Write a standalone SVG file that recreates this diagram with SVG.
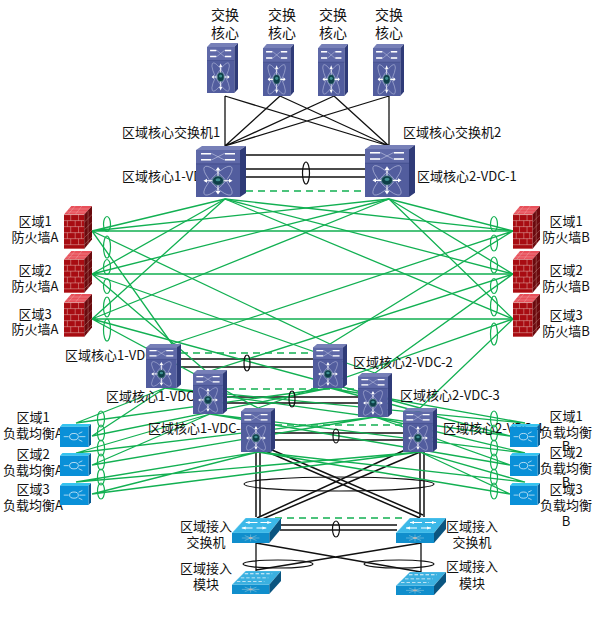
<svg xmlns="http://www.w3.org/2000/svg" xmlns:xlink="http://www.w3.org/1999/xlink" width="597" height="623" viewBox="0 0 597 623">
<style>
text{font-family:"Noto Sans CJK SC","Liberation Sans",sans-serif;font-size:13px;fill:#111}
.m{text-anchor:middle}
.b{font-size:14px}
.k{stroke:#111;stroke-width:1.5;fill:none}
.k2{stroke:#111;stroke-width:1.3;fill:none}
.g{stroke:#12b052;stroke-width:1.3;fill:none}
.d{stroke:#12b052;stroke-width:1.4;fill:none;stroke-dasharray:7 5}
.e{stroke:#111;stroke-width:1.2;fill:none}
.ge{stroke:#12b052;stroke-width:1.2;fill:none}
</style>
<defs>
<symbol id="nexus" viewBox="0 0 100 100" preserveAspectRatio="none">
<polygon points="0,8 12,0 100,0 88,8" fill="#7780b8"/>
<polygon points="88,8 100,0 100,92 88,100" fill="#2f3b78"/>
<rect x="0" y="8" width="88" height="92" fill="#525d9e"/>
<rect x="0" y="8" width="88" height="27" fill="#5f69a8"/>
<path d="M0 35H88" stroke="#3a4684" stroke-width="1.2"/>
<path d="M10 15H32L56 27H78M10 27H32L56 15H78" stroke="#d8dcf0" stroke-width="1" fill="none"/>
<path d="M10 15H30M58 15H78M10 27H30M58 27H78" stroke="#fff" stroke-width="3"/>
<g fill="none" stroke="#c8cde8" stroke-width="1.1">
<ellipse cx="44" cy="68" rx="38" ry="12" transform="rotate(45 44 68)"/>
<ellipse cx="44" cy="68" rx="38" ry="12" transform="rotate(-45 44 68)"/>
</g>
<path d="M44 68V44M44 68V92M44 68H18M44 68H70" stroke="#fff" stroke-width="2"/>
<path d="M44 41L39 48H49ZM44 95L39 88H49ZM15 68L22 64V72ZM73 68L66 64V72Z" fill="#fff"/>
<ellipse cx="44" cy="68" rx="11" ry="9" fill="#0e3f48" stroke="#7fb0b0" stroke-width="1"/>
<ellipse cx="44" cy="66" rx="5" ry="3" fill="#3f8f8f"/>
</symbol>
<symbol id="fw" viewBox="0 0 100 100" preserveAspectRatio="none">
<polygon points="0,20 26,0 100,0 72,20" fill="#e8505a"/>
<path d="M14 20L40 0M40 20L64 0M6 14H80M16 7H92" stroke="#f4c0c0" stroke-width="1"/>
<polygon points="72,20 100,0 100,78 72,100" fill="#6a0a0e"/>
<path d="M72 38L100 20M72 56L100 38M72 74L100 56M72 90L100 72M86 12V90" stroke="#d8a8a0" stroke-width="1"/>
<rect x="0" y="20" width="72" height="80" fill="#a80c12"/>
<path d="M0 20H72M0 34H72M0 48H72M0 62H72M0 76H72M0 90H72M0 99H72M24 20V34M52 20V34M12 34V48M40 34V48M62 34V48M24 48V62M52 48V62M12 62V76M40 62V76M62 62V76M24 76V90M52 76V90" stroke="#f0d8d0" stroke-width="1.2" fill="none"/>
</symbol>
<symbol id="lb" viewBox="0 0 100 100" preserveAspectRatio="none">
<polygon points="0,12 8,0 100,0 92,12" fill="#35c4f0"/>
<polygon points="92,12 100,0 100,88 92,100" fill="#0a5c92"/>
<rect x="0" y="12" width="92" height="88" fill="#0a90d8"/>
<circle cx="45" cy="55" r="14" fill="none" stroke="#fff" stroke-width="2.6"/>
<path d="M12 55H28M62 55H82M60 42L72 34M60 68L72 76" stroke="#fff" stroke-width="2.4"/>
</symbol>
<symbol id="acc" viewBox="0 0 100 100" preserveAspectRatio="none">
<polygon points="0,60 28,0 100,0 76,60" fill="#3bb8e8" stroke="#8adcf4" stroke-width="1"/>
<polygon points="76,60 100,0 100,44 76,100" fill="#0a5580"/>
<rect x="0" y="60" width="76" height="40" fill="#108ecc"/>
<path d="M20 40H42M50 40H70M28 18H52M58 18H80" stroke="#fff" stroke-width="3.5"/>
<path d="M20 40L28 34V46ZM80 18L72 12V24ZM70 40L62 34V46ZM28 18L36 12V24Z" fill="#fff"/>
<path d="M20 80H56M38 66V94M26 70L50 90M50 70L26 90" stroke="#b8d8e0" stroke-width="1.2"/>
<circle cx="38" cy="80" r="4" fill="#b8b8b8"/>
</symbol>
<symbol id="mod" viewBox="0 0 100 100" preserveAspectRatio="none">
<polygon points="0,60 28,0 100,0 76,60" fill="#3bb0e0" stroke="#8adcf4" stroke-width="1"/>
<polygon points="76,60 100,0 100,44 76,100" fill="#0a5580"/>
<rect x="0" y="60" width="76" height="40" fill="#108ecc"/>
<path d="M26 12H82M18 30H74M10 46H66" stroke="#e8f4fa" stroke-width="3.5" stroke-dasharray="7 4"/>
<path d="M20 80H56M38 66V94M26 70L50 90M50 70L26 90" stroke="#b8d8e0" stroke-width="1.2"/>
<circle cx="38" cy="80" r="4" fill="#b8b8b8"/>
</symbol>
</defs>

<g id="connectors">
<g class="k2">
<path d="M225 96L225 146M225 96L389 146M280 96L225 146M280 96L389 146M334 96L225 146M334 96L389 146M389 96L225 146M389 96L389 146"/>
</g>
<g class="k">
<path d="M246 155H365M246 169H365M246 177H365"/>
<path d="M181 359H313M181 367H313"/>
<path d="M227 397H358M227 403H358"/>
<path d="M275 433H403M275 440H403"/>
<path d="M256 452V517M260 452V517M420 452V517M424 452V517"/>
<path d="M272 450L423 515M263 450L420 518M405 450L257 518M420 452L260 520"/>
<path d="M280 525H397M280 530H397"/>
</g>
<g class="k2">
<path d="M256 543V571M421 543V572M256 543L421 572M421 543L256 570"/>
</g>
<path class="d" d="M246 191H365M181 353H313M227 389H358M275 425H403M275 518H405"/>
<g class="g">
<path d="M92 231L225 199M92 231L389 199M92 231H513M92 231L172 344M92 231L330 344"/>
<path d="M92 274L225 199M92 274L389 199M92 274H513M92 274L207 372M92 274L375 373"/>
<path d="M92 319L225 199M92 319L389 199M92 319H513M92 319L258 408M92 319L420 408"/>
<path d="M513 231L389 199M513 231L225 199M513 231L172 344M513 231L330 344"/>
<path d="M513 274L389 199M513 274L225 199M513 274L207 372M513 274L375 373"/>
<path d="M513 319L389 199M513 319L225 199M513 319L258 408M513 319L420 408"/>
<path d="M76 423L165 388M92 436L165 388M76 423L330 388M92 436L330 388"/>
<path d="M76 453L210 414M92 465L210 414M76 453L375 417M92 465L375 417"/>
<path d="M76 482L258 452M92 494L258 452M76 482L420 452M92 494L420 452"/>
<path d="M525 423L330 388M510 436L330 388M525 423L165 388M510 436L165 388"/>
<path d="M525 453L375 417M510 465L375 417M525 453L210 414M510 465L210 414"/>
<path d="M525 482L420 452M510 494L420 452M525 482L258 452M510 494L258 452"/>
</g>
<g class="ge">
<ellipse cx="107" cy="224" rx="3.5" ry="7.5"/><ellipse cx="107" cy="247" rx="3.5" ry="11"/><ellipse cx="107" cy="267" rx="3.5" ry="7.5"/><ellipse cx="107" cy="286" rx="3.5" ry="7.5"/><ellipse cx="107" cy="307" rx="3.5" ry="10"/><ellipse cx="107" cy="330" rx="3.5" ry="11"/>
<ellipse cx="494" cy="224" rx="3.5" ry="7.5"/><ellipse cx="494" cy="243" rx="3.5" ry="8"/><ellipse cx="494" cy="265" rx="3.5" ry="8"/><ellipse cx="494" cy="286" rx="3.5" ry="7.5"/><ellipse cx="494" cy="306" rx="3.5" ry="10"/><ellipse cx="494" cy="334" rx="3.5" ry="11"/>
<ellipse cx="101" cy="419" rx="3.5" ry="8"/><ellipse cx="101" cy="433" rx="3.5" ry="8"/><ellipse cx="101" cy="448" rx="3.5" ry="8"/><ellipse cx="101" cy="462" rx="3.5" ry="8"/><ellipse cx="101" cy="477" rx="3.5" ry="8"/><ellipse cx="101" cy="491" rx="3.5" ry="8"/>
<ellipse cx="494" cy="419" rx="3.5" ry="8"/><ellipse cx="494" cy="433" rx="3.5" ry="8"/><ellipse cx="494" cy="448" rx="3.5" ry="8"/><ellipse cx="494" cy="462" rx="3.5" ry="8"/><ellipse cx="494" cy="477" rx="3.5" ry="8"/><ellipse cx="494" cy="491" rx="3.5" ry="8"/>
</g>
<g class="e">
<ellipse cx="306" cy="173" rx="3.5" ry="11"/><ellipse cx="247" cy="363" rx="3" ry="8"/><ellipse cx="292" cy="399" rx="3" ry="8"/><ellipse cx="336" cy="436" rx="3" ry="7"/>
<ellipse cx="339" cy="484" rx="95" ry="7"/><ellipse cx="336" cy="529" rx="3.5" ry="8"/><ellipse cx="278" cy="564" rx="35" ry="4"/><ellipse cx="399" cy="564" rx="35" ry="4"/>
</g>
</g>

<g id="core-top-1"><text class="m b" x="225" y="20">交换</text><text class="m b" x="225" y="38">核心</text><use xlink:href="#nexus" href="#nexus" x="207" y="43" width="31" height="50"/></g>
<g id="core-top-2"><text class="m b" x="282" y="20">交换</text><text class="m b" x="282" y="38">核心</text><use xlink:href="#nexus" href="#nexus" x="263" y="44" width="31" height="52"/></g>
<g id="core-top-3"><text class="m b" x="333" y="20">交换</text><text class="m b" x="333" y="38">核心</text><use xlink:href="#nexus" href="#nexus" x="318" y="44" width="30" height="52"/></g>
<g id="core-top-4"><text class="m b" x="389" y="20">交换</text><text class="m b" x="389" y="38">核心</text><use xlink:href="#nexus" href="#nexus" x="373" y="44" width="31" height="52"/></g>

<g id="core1-vdc1"><text x="122" y="137">区域核心交换机1</text><text x="122" y="181">区域核心1-VDC-1</text><use xlink:href="#nexus" href="#nexus" x="196" y="146" width="50" height="51"/></g>
<g id="core2-vdc1"><text x="403" y="137">区域核心交换机2</text><use xlink:href="#nexus" href="#nexus" x="365" y="145" width="50" height="52"/><text x="417" y="181">区域核心2-VDC-1</text></g>

<g id="fw-a1"><text class="m" x="35" y="226">区域1</text><text class="m" x="35" y="242">防火墙A</text><use xlink:href="#fw" href="#fw" x="64" y="206" width="28" height="43"/></g>
<g id="fw-a2"><text class="m" x="35" y="275">区域2</text><text class="m" x="35" y="291">防火墙A</text><use xlink:href="#fw" href="#fw" x="64" y="251" width="28" height="42"/></g>
<g id="fw-a3"><text class="m" x="35" y="319">区域3</text><text class="m" x="35" y="334">防火墙A</text><use xlink:href="#fw" href="#fw" x="64" y="294" width="28" height="43"/></g>
<g id="fw-b1"><text class="m" x="566" y="226">区域1</text><text class="m" x="566" y="242">防火墙B</text><use xlink:href="#fw" href="#fw" x="513" y="206" width="27" height="43"/></g>
<g id="fw-b2"><text class="m" x="566" y="275">区域2</text><text class="m" x="566" y="291">防火墙B</text><use xlink:href="#fw" href="#fw" x="513" y="251" width="27" height="42"/></g>
<g id="fw-b3"><text class="m" x="566" y="320">区域3</text><text class="m" x="566" y="336">防火墙B</text><use xlink:href="#fw" href="#fw" x="513" y="294" width="27" height="43"/></g>

<g id="core1-vdc2"><text x="65" y="360">区域核心1-VDC-2</text><use xlink:href="#nexus" href="#nexus" x="146" y="344" width="35" height="44"/></g>
<g id="core2-vdc2"><use xlink:href="#nexus" href="#nexus" x="313" y="344" width="34" height="44"/><text x="353" y="367">区域核心2-VDC-2</text></g>
<g id="core1-vdc3"><text x="106" y="401">区域核心1-VDC-3</text><use xlink:href="#nexus" href="#nexus" x="193" y="370" width="34" height="44"/></g>
<g id="core2-vdc3"><use xlink:href="#nexus" href="#nexus" x="358" y="373" width="34" height="44"/><text x="400" y="400">区域核心2-VDC-3</text></g>
<g id="core1-vdc4"><text x="148" y="433">区域核心1-VDC-4</text><use xlink:href="#nexus" href="#nexus" x="241" y="408" width="34" height="44"/></g>
<g id="core2-vdc4"><use xlink:href="#nexus" href="#nexus" x="403" y="408" width="34" height="44"/><text x="443" y="433">区域核心2-VDC-4</text></g>

<g id="lb-a1"><text class="m" x="33" y="422">区域1</text><text x="3" y="438">负载均衡A</text><use xlink:href="#lb" href="#lb" x="60" y="424" width="31" height="23"/></g>
<g id="lb-a2"><text class="m" x="33" y="459">区域2</text><text x="3" y="475">负载均衡A</text><use xlink:href="#lb" href="#lb" x="60" y="453" width="31" height="23"/></g>
<g id="lb-a3"><text class="m" x="33" y="494">区域3</text><text x="3" y="510">负载均衡A</text><use xlink:href="#lb" href="#lb" x="60" y="483" width="31" height="22"/></g>
<g id="lb-b1"><use xlink:href="#lb" href="#lb" x="510" y="424" width="30" height="23"/><text class="m" x="566" y="421">区域1</text><text class="m" x="566" y="437">负载均衡</text><text class="m" x="566" y="451">B</text></g>
<g id="lb-b2"><use xlink:href="#lb" href="#lb" x="510" y="453" width="30" height="23"/><text class="m" x="566" y="457">区域2</text><text class="m" x="566" y="473">负载均衡</text><text class="m" x="566" y="487">B</text></g>
<g id="lb-b3"><use xlink:href="#lb" href="#lb" x="510" y="483" width="30" height="22"/><text class="m" x="566" y="494">区域3</text><text class="m" x="566" y="510">负载均衡</text><text class="m" x="566" y="526">B</text></g>

<g id="acc-1"><text class="m" x="206" y="531">区域接入</text><text class="m" x="206" y="547">交换机</text><use xlink:href="#acc" href="#acc" x="232" y="518" width="49" height="25"/></g>
<g id="acc-2"><use xlink:href="#acc" href="#acc" x="396" y="518" width="50" height="25"/><text class="m" x="472" y="531">区域接入</text><text class="m" x="472" y="547">交换机</text></g>
<g id="mod-1"><text class="m" x="206" y="573">区域接入</text><text class="m" x="206" y="589">模块</text><use xlink:href="#mod" href="#mod" x="232" y="571" width="49" height="23"/></g>
<g id="mod-2"><use xlink:href="#mod" href="#mod" x="396" y="572" width="50" height="23"/><text class="m" x="472" y="571">区域接入</text><text class="m" x="472" y="588">模块</text></g>
</svg>
